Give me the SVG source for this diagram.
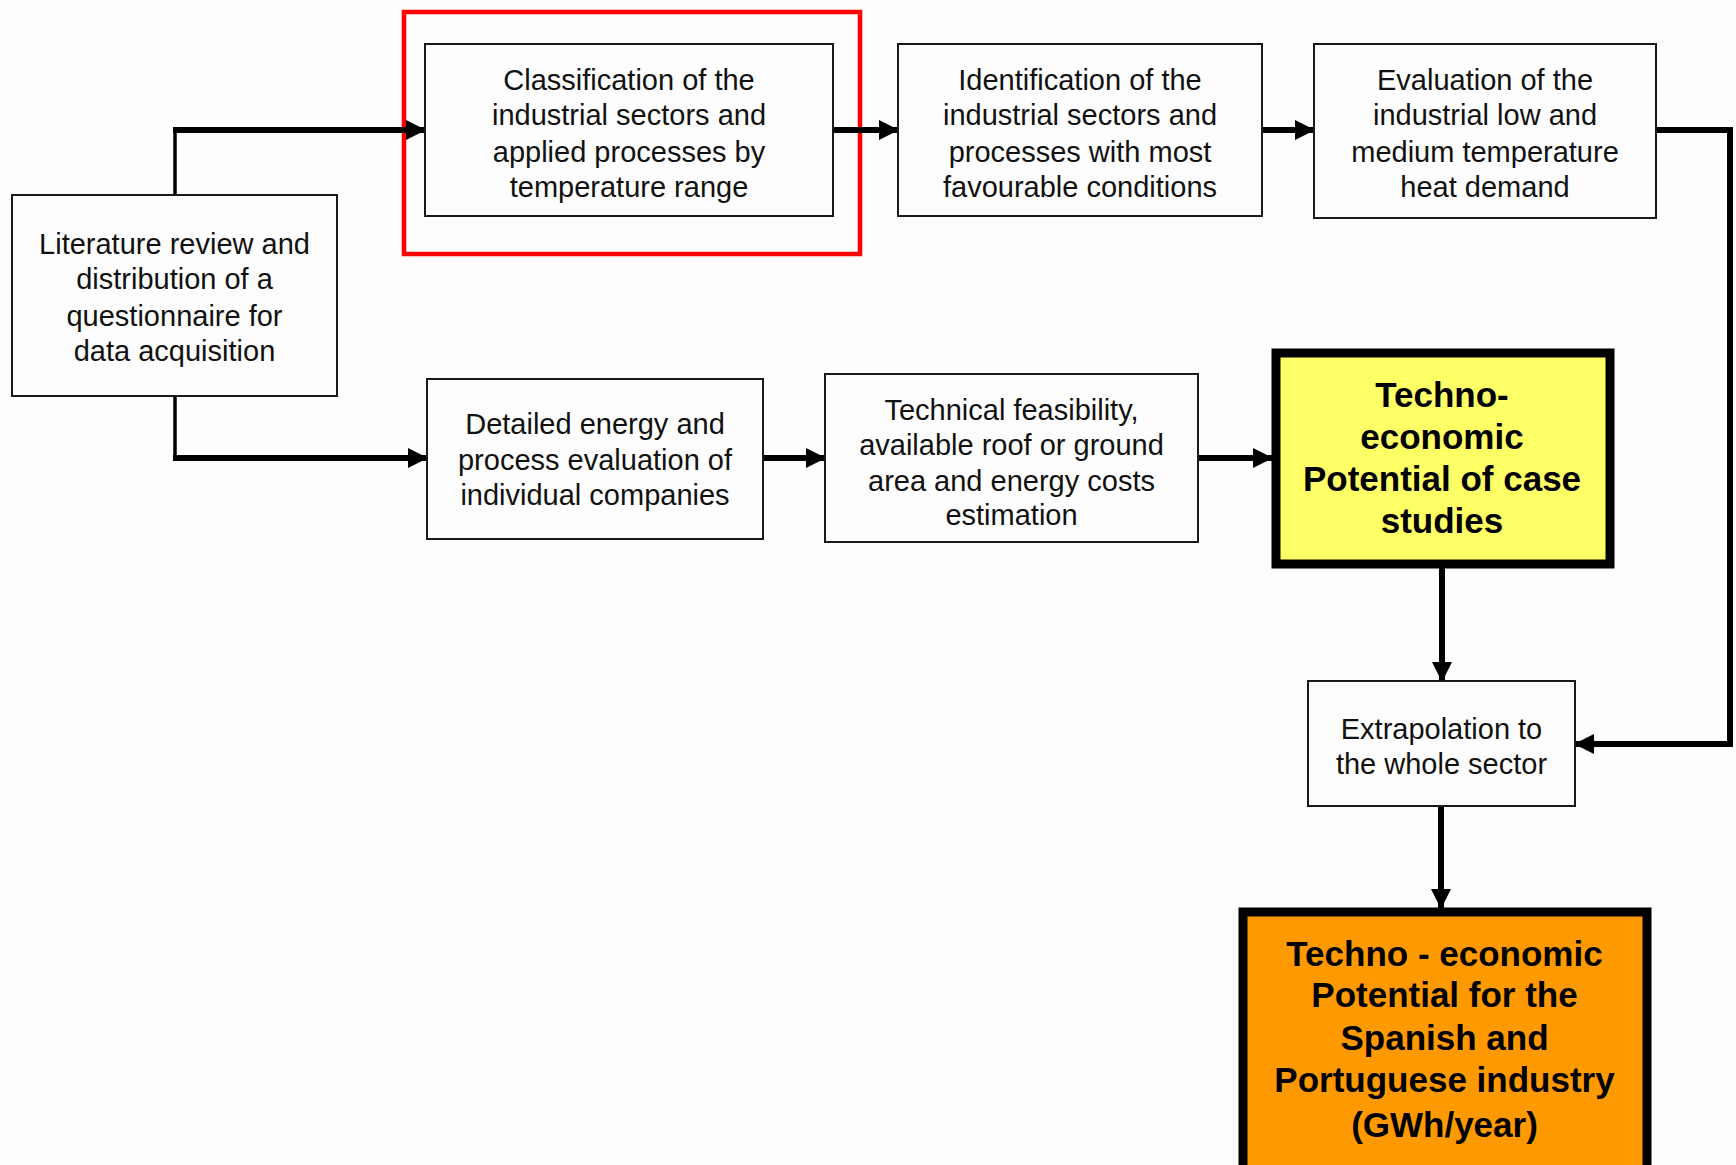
<svg xmlns="http://www.w3.org/2000/svg" width="1736" height="1165" viewBox="0 0 1736 1165">
<style>
.box{fill:#fdfdfd;stroke:#1a1a1a;stroke-width:2}
.t{font-family:"Liberation Sans",Arial,sans-serif;font-size:29px;fill:#111;text-anchor:middle;dominant-baseline:central}
.b{font-family:"Liberation Sans",Arial,sans-serif;font-size:35px;font-weight:bold;fill:#000;text-anchor:middle;dominant-baseline:central}
.c{fill:none;stroke:#000;stroke-width:6;stroke-linejoin:miter}
</style>
<defs>
<marker id="ah" markerUnits="userSpaceOnUse" markerWidth="20" markerHeight="22" refX="19" refY="11" orient="auto">
<path d="M0,1 L20,11 L0,21 Z" fill="#000"/>
</marker>
</defs>
<rect x="0" y="0" width="1736" height="1165" fill="#fdfdfd"/>
<rect x="404" y="12" width="456" height="242" fill="none" stroke="#ff0000" stroke-width="4.5"/>
<g id="connectors">
<path class="c" style="stroke-width:3.5" d="M175,195 V130"/>
<path class="c" d="M173,130 H425" marker-end="url(#ah)"/>
<path class="c" style="stroke-width:3.5" d="M175,396 V458"/>
<path class="c" d="M173,458 H427" marker-end="url(#ah)"/>
<path class="c" d="M831,130 H898" marker-end="url(#ah)"/>
<path class="c" d="M1261,130 H1314" marker-end="url(#ah)"/>
<path class="c" d="M1656,130 H1730 V744 H1575" marker-end="url(#ah)"/>
<path class="c" d="M763,458 H825" marker-end="url(#ah)"/>
<path class="c" d="M1198,458 H1272" marker-end="url(#ah)"/>
<path class="c" d="M1442,567 V681" marker-end="url(#ah)"/>
<path class="c" d="M1441,806 V908" marker-end="url(#ah)"/>
</g>
<g id="classification">
<rect class="box" x="425" y="44" width="408" height="172"/>
<text class="t" x="629" y="80">Classification of the</text>
<text class="t" x="629" y="115">industrial sectors and</text>
<text class="t" x="629" y="152">applied processes by</text>
<text class="t" x="629" y="187">temperature range</text>
</g>
<g id="identification">
<rect class="box" x="898" y="44" width="364" height="172"/>
<text class="t" x="1080" y="80">Identification of  the</text>
<text class="t" x="1080" y="115">industrial sectors and</text>
<text class="t" x="1080" y="152">processes with most</text>
<text class="t" x="1080" y="187">favourable conditions</text>
</g>
<g id="evaluation">
<rect class="box" x="1314" y="44" width="342" height="174"/>
<text class="t" x="1485" y="80">Evaluation of the</text>
<text class="t" x="1485" y="115">industrial low and</text>
<text class="t" x="1485" y="152">medium temperature</text>
<text class="t" x="1485" y="187">heat demand</text>
</g>
<g id="literature">
<rect class="box" x="12" y="195" width="325" height="201"/>
<text class="t" x="174.5" y="244">Literature review and</text>
<text class="t" x="174.5" y="279">distribution of a</text>
<text class="t" x="174.5" y="315.5">questionnaire for</text>
<text class="t" x="174.5" y="351">data acquisition</text>
</g>
<g id="detailed">
<rect class="box" x="427" y="379" width="336" height="160"/>
<text class="t" x="595" y="424">Detailed energy and</text>
<text class="t" x="595" y="459.5">process evaluation of</text>
<text class="t" x="595" y="495">individual companies</text>
</g>
<g id="technical">
<rect class="box" x="825" y="374" width="373" height="168"/>
<text class="t" x="1011.5" y="409.6">Technical feasibility,</text>
<text class="t" x="1011.5" y="445">available roof or ground</text>
<text class="t" x="1011.5" y="480.5">area and energy costs</text>
<text class="t" x="1011.5" y="515">estimation</text>
</g>
<g id="case-studies">
<rect x="1276" y="353" width="334" height="211" fill="#ffff66" stroke="#000" stroke-width="9"/>
<text class="b" x="1442" y="394">Techno-</text>
<text class="b" x="1442" y="436">economic</text>
<text class="b" x="1442" y="478">Potential of case</text>
<text class="b" x="1442" y="520">studies</text>
</g>
<g id="extrapolation">
<rect class="box" x="1308" y="681" width="267" height="125"/>
<text class="t" x="1441.5" y="728.5">Extrapolation to</text>
<text class="t" x="1441.5" y="764">the whole sector</text>
</g>
<g id="potential">
<rect x="1243" y="912" width="404" height="270" fill="#ff9900" stroke="#000" stroke-width="9"/>
<text class="b" x="1444.5" y="953">Techno - economic</text>
<text class="b" x="1444.5" y="994">Potential for the</text>
<text class="b" x="1444.5" y="1037">Spanish and</text>
<text class="b" x="1444.5" y="1079">Portuguese industry</text>
<text class="b" x="1444.5" y="1124">(GWh/year)</text>
</g>
</svg>
